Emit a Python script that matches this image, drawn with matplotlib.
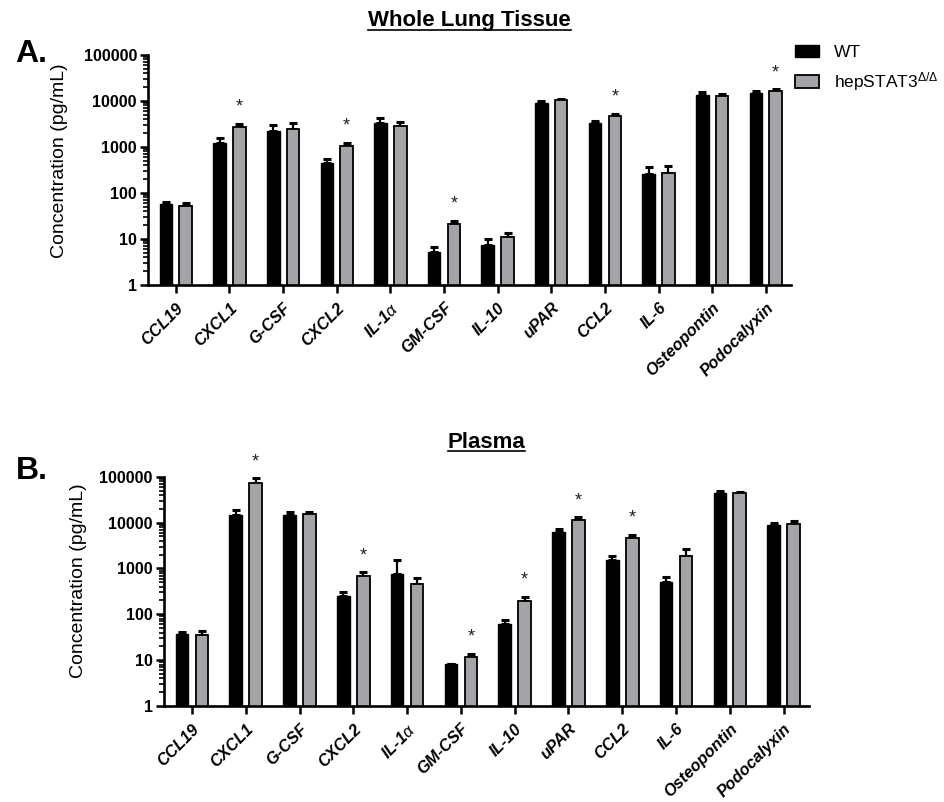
import numpy as np
import matplotlib
matplotlib.use("Agg")
import matplotlib.pyplot as plt
from matplotlib.ticker import FixedLocator, FixedFormatter, LogLocator, NullFormatter
from matplotlib.patches import Patch

plt.rcParams['font.family'] = ['Liberation Sans', 'DejaVu Sans']
plt.rcParams['mathtext.fontset'] = 'custom'
plt.rcParams['mathtext.rm'] = 'Liberation Sans'
plt.rcParams['mathtext.it'] = 'Liberation Sans:italic'
plt.rcParams['mathtext.bf'] = 'Liberation Sans:bold'

categories = ["CCL19", "CXCL1", "G-CSF", "CXCL2", "IL-1$\\alpha$", "GM-CSF",
              "IL-10", "uPAR", "CCL2", "IL-6", "Osteopontin", "Podocalyxin"]
series_names = ["WT", "hepSTAT3$^{\\Delta/\\Delta}$"]

# Panel A: Whole Lung Tissue (mean, upper error bar top)
lung_wt = [57, 1240, 2220, 450, 3380, 5.1, 7.4, 8900, 3270, 258, 13500, 15100]
lung_wt_err = [65, 1550, 3000, 540, 4200, 6.6, 9.8, 10200, 3730, 360, 15400, 16500]
lung_ko = [53, 2700, 2500, 1035, 2860, 21.2, 10.9, 10500, 4800, 267, 12800, 16500]
lung_ko_err = [61, 3150, 3270, 1220, 3440, 25, 13.3, 11200, 5250, 392, 14400, 17900]
lung_sig = [False, True, False, True, False, True, False, False, True, False, False, True]

# Panel B: Plasma
plasma_wt = [36.6, 14600, 14600, 254, 745, 8.2, 61, 6130, 1520, 505, 44900, 8700]
plasma_wt_err = [41.7, 18700, 16700, 310, 1520, 8.2, 75, 7100, 1820, 660, 48000, 9600]
plasma_ko = [36, 71800, 15200, 684, 450, 11.7, 195, 11400, 4680, 1860, 43800, 9440]
plasma_ko_err = [42.4, 92000, 17300, 822, 607, 13.6, 238, 13000, 5300, 2640, 46700, 10800]
plasma_sig = [False, True, False, True, False, True, True, True, True, False, False, False]

ytick_vals = [1, 10, 100, 1000, 10000, 100000]
ytick_labels = ["1", "10", "100", "1000", "10000", "100000"]

GRAY = '#a4a4a8'

fig = plt.figure(figsize=(9.45, 8.02), dpi=100)
axA = fig.add_axes([0.1566, 0.6446, 0.6804, 0.2868])
axB = fig.add_axes([0.1735, 0.1197, 0.6825, 0.2859])


def draw(ax, wt, wt_err, ko, ko_err, sig, title, label_xy):
    x = np.arange(len(categories))
    off = 0.185
    w = 0.235
    ax.set_yscale('log')
    ax.bar(x - off, wt, w, color='black', edgecolor='black', linewidth=1.0, zorder=2)
    ax.bar(x + off, ko, w, color=GRAY, edgecolor='black', linewidth=1.3, zorder=2)
    wt_a = np.array(wt); ko_a = np.array(ko)
    ax.errorbar(x - off, wt_a, yerr=[np.zeros_like(wt_a), np.array(wt_err) - wt_a],
                fmt='none', ecolor='black', elinewidth=1.6, capsize=3.2, capthick=2.2, zorder=1)
    ax.errorbar(x + off, ko_a, yerr=[np.zeros_like(ko_a), np.array(ko_err) - ko_a],
                fmt='none', ecolor='black', elinewidth=1.6, capsize=3.2, capthick=2.2, zorder=1)
    for i, s in enumerate(sig):
        if s:
            ax.annotate('*', xy=(x[i] + off, ko_err[i]), xytext=(0, 6),
                        textcoords='offset points', ha='center', va='bottom',
                        fontsize=13, color='#222222', annotation_clip=False)
    ax.set_ylim(1, 100000)
    ax.set_xlim(-0.52, len(categories) - 0.53)
    ax.yaxis.set_major_locator(FixedLocator(ytick_vals))
    ax.yaxis.set_major_formatter(FixedFormatter(ytick_labels))
    ax.yaxis.set_minor_locator(LogLocator(base=10, subs=np.arange(2, 10), numticks=20))
    ax.yaxis.set_minor_formatter(NullFormatter())
    ax.set_xticks(x)
    ax.set_xticklabels(categories, rotation=45, ha='right', va='top',
                       rotation_mode='anchor', fontsize=11.8, fontweight='bold', style='italic')
    for lab in ax.get_yticklabels():
        lab.set_fontweight('bold')
        lab.set_fontsize(11.5)
    ax.tick_params(axis='y', which='major', length=6, width=1.8, direction='out', pad=2)
    ax.tick_params(axis='y', which='minor', length=3.5, width=1.2, direction='out')
    ax.tick_params(axis='x', which='major', length=6, width=1.8, direction='out', pad=5)
    for s in ['top', 'right']:
        ax.spines[s].set_visible(False)
    for s in ['left', 'bottom']:
        ax.spines[s].set_linewidth(1.9)
    ax.set_ylabel('Concentration (pg/mL)', fontsize=14)
    ax.yaxis.set_label_coords(*label_xy)
    t = ax.set_title(title, fontsize=16, fontweight='bold', pad=21)
    return t


draw(axA, lung_wt, lung_wt_err, lung_ko, lung_ko_err, lung_sig, 'Whole Lung Tissue', (-0.124, 0.54))
draw(axB, plasma_wt, plasma_wt_err, plasma_ko, plasma_ko_err, plasma_sig, 'Plasma', (-0.119, 0.545))

# underline titles
fig.canvas.draw()
r = fig.canvas.get_renderer()
for ax in (axA, axB):
    t = ax.title
    bb = t.get_window_extent(r).transformed(fig.transFigure.inverted())
    fig.add_artist(plt.Line2D([bb.x0, bb.x1], [bb.y0 + 0.0015, bb.y0 + 0.0015],
                              color='black', linewidth=1.2, transform=fig.transFigure))

fig.text(0.016, 0.933, 'A.', fontsize=23, fontweight='bold', va='center', ha='left')
fig.text(0.017, 0.413, 'B.', fontsize=23, fontweight='bold', va='center', ha='left')

handles = [Patch(facecolor='black', edgecolor='black', linewidth=1.0),
           Patch(facecolor=GRAY, edgecolor='black', linewidth=1.3)]
fig.legend(handles, series_names, loc='upper left', bbox_to_anchor=(0.834, 0.953),
           frameon=False, fontsize=12.5, handlelength=1.4, handleheight=0.7,
           labelspacing=0.6, handletextpad=0.85, borderaxespad=0)

fig.savefig('out.png', dpi=100)
